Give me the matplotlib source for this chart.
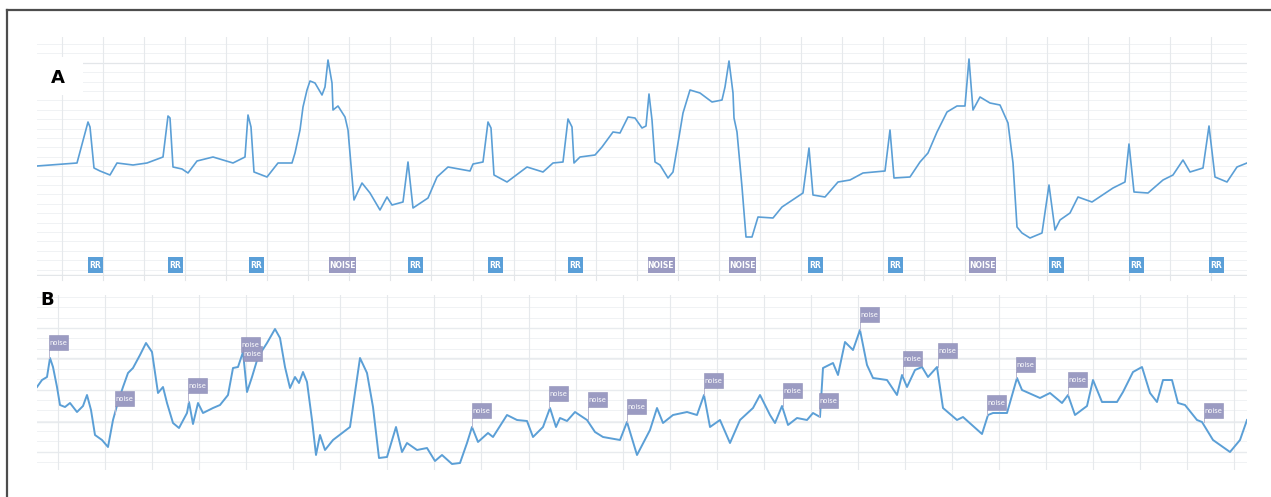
import matplotlib
matplotlib.use('Agg')
from matplotlib import pyplot as plt
from matplotlib.patches import Rectangle
from matplotlib.lines import Line2D
import numpy as np

# Trace A: (sample position, level as read, screen units, y grows downward)
a_t = [37, 77, 88, 90, 94, 100, 110, 117, 133, 147, 163, 168, 170, 173, 182, 188, 197, 213,
       233, 245, 248, 251, 254, 267, 278, 292, 295, 300, 303, 307, 310, 315, 322, 325, 328,
       332, 333, 338, 345, 348, 352, 354, 362, 370, 380, 387, 392, 403, 408, 413, 428,
       437, 448, 470, 473, 483, 488, 491, 494, 507, 527, 543, 553, 563, 568, 572, 574, 580,
       595, 602, 613, 620, 628, 635, 642, 646, 649, 652, 655, 660, 668, 673, 678, 683, 690,
       700, 712, 722, 725, 729, 733, 734, 737, 742, 746, 752, 758, 773, 782, 803, 809, 813,
       825, 838, 850, 863, 885, 890, 894, 910, 920, 928, 937, 947, 957, 965, 969, 973, 980,
       990, 1000, 1008, 1013, 1017, 1022, 1030, 1042, 1049, 1055, 1060, 1070, 1078, 1092,
       1113, 1125, 1129, 1134, 1148, 1163, 1173, 1183, 1190, 1203, 1209, 1215, 1227, 1237, 1247]
a_v = [166, 163, 122, 127, 168, 171, 175, 163, 165, 163, 157, 116, 118, 167, 169, 173, 161, 157,
       163, 157, 115, 127, 172, 177, 163, 163, 153, 130, 107, 90, 81, 83, 95, 87, 60,
       83, 110, 106, 117, 130, 177, 200, 183, 193, 210, 197, 205, 202, 162, 208, 198,
       177, 167, 171, 164, 162, 122, 128, 175, 182, 167, 172, 163, 162, 119, 127, 163, 157,
       155, 147, 132, 133, 117, 118, 128, 126, 94, 120, 162, 165, 178, 172, 143, 113, 90,
       93, 102, 100, 87, 61, 93, 118, 132, 187, 237, 237, 217, 218, 207, 193, 148, 195,
       197, 182, 180, 173, 171, 130, 178, 177, 162, 153, 132, 112, 106, 106, 59, 110, 97,
       103, 105, 123, 163, 227, 233, 238, 233, 185, 230, 220, 213, 197, 202,
       188, 182, 144, 192, 193, 180, 175, 160, 172, 168, 126, 177, 182, 167, 163]

# Beat annotations on A
a_lab_t = [95, 175, 256, 342, 415, 495, 575, 661, 742, 815, 895, 982, 1056, 1136, 1216]
a_lab = ['RR', 'RR', 'RR', 'NOISE', 'RR', 'RR', 'RR', 'NOISE', 'NOISE', 'RR', 'RR', 'NOISE',
         'RR', 'RR', 'RR']

# Trace B
b_t = [37, 42, 47, 50, 53, 57, 60, 65, 70, 77, 83, 87, 91, 95, 102, 108, 113, 118, 123, 128,
       133, 140, 146, 152, 158, 163, 167, 173, 179, 187, 189, 193, 198, 203, 213, 220, 228,
       233, 238, 243, 247, 252, 258, 267, 275, 280, 285, 290, 295, 299, 303, 307, 312, 316,
       320, 325, 333, 350, 360, 367, 373, 379, 387, 396, 402, 407, 417, 427, 435, 442, 452,
       460, 467, 472, 478, 488, 493, 507, 517, 527, 533, 543, 550, 556, 560, 567, 575, 587,
       595, 603, 620, 627, 637, 650, 657, 663, 673, 687, 697, 704, 710, 720, 730, 740, 753,
       760, 770, 775, 782, 788, 797, 807, 813, 820, 823, 833, 838, 845, 853, 860, 867, 873,
       887, 897, 902, 907, 915, 922, 928, 937, 943, 957, 963, 982, 988, 993, 1007, 1017,
       1022, 1040, 1050, 1062, 1068, 1075, 1087, 1093, 1102, 1117, 1123, 1133, 1142, 1150,
       1157, 1163, 1172, 1178, 1185, 1197, 1202, 1213, 1230, 1240, 1247]
b_v = [387, 380, 377, 358, 367, 387, 405, 407, 403, 412, 406, 395, 410, 435, 440, 447, 420, 402,
       387, 373, 368, 355, 343, 352, 393, 387, 403, 423, 428, 413, 402, 424, 403, 413, 408, 405,
       395, 368, 367, 352, 392, 377, 357, 343, 329, 338, 367, 388, 377, 383, 372, 382, 420, 455,
       435, 450, 440, 427, 358, 373, 407, 458, 457, 427, 452, 443, 450, 448, 461, 455, 464,
       463, 443, 427, 442, 433, 437, 415, 420, 421, 437, 427, 408, 427, 418, 421, 412, 420,
       432, 437, 440, 422, 455, 430, 408, 423, 415, 412, 415, 395, 427, 420, 443, 420, 408,
       395, 415, 423, 406, 425, 418, 420, 413, 417, 368, 363, 375, 342, 350, 330, 365, 378,
       380, 395, 375, 387, 370, 367, 377, 367, 408, 420, 417, 434, 415, 413, 413, 378,
       390, 398, 393, 403, 395, 415, 406, 380, 402, 402, 392, 372, 367, 393,
       402, 380, 380, 403, 405, 420, 422, 440, 452, 440, 420]

# "noise" flags on B: anchor position, box bottom, trace point
b_flag_t = [49, 115, 188, 241, 243, 472, 549, 588, 627, 704, 783, 819, 860, 903, 938, 987,
            1016, 1068, 1204]
b_flag_box = [350, 406, 393, 352, 361, 418, 401, 407, 414, 388, 398, 408, 322, 366, 358, 410,
              372, 387, 418]
b_flag_pt = [358, 414, 402, 352, 361, 427, 408, 420, 422, 395, 406, 417, 330, 375, 367, 415,
             378, 395, 422]

W, H = 1271, 497
LINE = '#5b9fd6'
HGRID = '#f0f2f4'
VGRID = '#e6e9ec'
RR_C = '#5a9fd8'
NOISE_C = '#9b9bc2'


def make_axes(fig, x0, x1, y0, y1):
    ax = fig.add_axes([x0 / W, 1 - y1 / H, (x1 - x0) / W, (y1 - y0) / H])
    ax.set_xlim(x0, x1)
    ax.set_ylim(y1, y0)
    for s in ax.spines.values():
        s.set_visible(False)
    ax.set_xticks([])
    ax.set_yticks([])
    return ax


fig = plt.figure(figsize=(W / 100, H / 100), dpi=100)

# ---- panel A
ax = make_axes(fig, 37, 1247, 37, 276)
for y in np.arange(44, 275, 9.4):
    ax.axhline(y, color=HGRID, lw=0.7, zorder=0)
ax.axhline(63, color='#e3e6e9', lw=0.9, zorder=0)
ax.axhline(275, color='#e3e6e9', lw=1.0, zorder=0)
for x in np.arange(62, 1247, 41.05):
    ax.axvline(x, color=VGRID, lw=0.8, zorder=0)
    ax.plot([x, x], [275, 280], color='#e3e6e9', lw=0.8, clip_on=False)
ax.add_patch(Rectangle((37, 57), 46, 38, fc='white', ec='none', zorder=1))
ax.text(58, 78, 'A', fontsize=13, fontweight='bold', ha='center', va='center', zorder=2)
ax.plot(a_t, a_v, color=LINE, lw=1.2, zorder=3)
for t, lab in zip(a_lab_t, a_lab):
    w = 27 if lab == 'NOISE' else 15
    c = NOISE_C if lab == 'NOISE' else RR_C
    ax.add_patch(Rectangle((t - w / 2, 257), w, 16, fc=c, ec='none', zorder=4))
    ax.text(t, 265.5, lab, fontsize=5.5, color='white', fontweight='bold',
            ha='center', va='center', zorder=5)

# ---- panel B
bx = make_axes(fig, 37, 1247, 295, 470)
for y in np.arange(297, 470, 10.3):
    bx.axhline(y, color=HGRID, lw=0.7, zorder=0)
for y in [328, 358, 390, 422, 452]:
    bx.axhline(y, color='#e8ebee', lw=1.0, zorder=0)
for x in np.arange(58, 1247, 47.05):
    bx.axvline(x, color=VGRID, lw=0.8, zorder=0)
bx.plot(b_t, b_v, color=LINE, lw=1.4, zorder=3)
for t, yb, yp in zip(b_flag_t, b_flag_box, b_flag_pt):
    if yp > yb:
        bx.plot([t, t], [yb, yp], color='#b9b8d0', lw=0.7, zorder=4)
    bx.add_patch(Rectangle((t, yb - 15), 19, 15, fc=NOISE_C, ec='#8f8fb8', lw=0.4, zorder=5))
    bx.text(t + 9.5, yb - 7.5, 'noise', fontsize=4.8, color='white',
            ha='center', va='center', zorder=6)
fig.text(47 / W, 1 - 300 / H, 'B', fontsize=13, fontweight='bold', ha='center', va='center')

# outer frame (cropped at right and bottom)
fig.add_artist(Line2D([7 / W, 1], [1 - 10 / H, 1 - 10 / H], color='#4d4d4d', lw=1.6))
fig.add_artist(Line2D([7 / W, 7 / W], [0, 1 - 10 / H], color='#4d4d4d', lw=1.6))

fig.savefig('out.png', dpi=100)
